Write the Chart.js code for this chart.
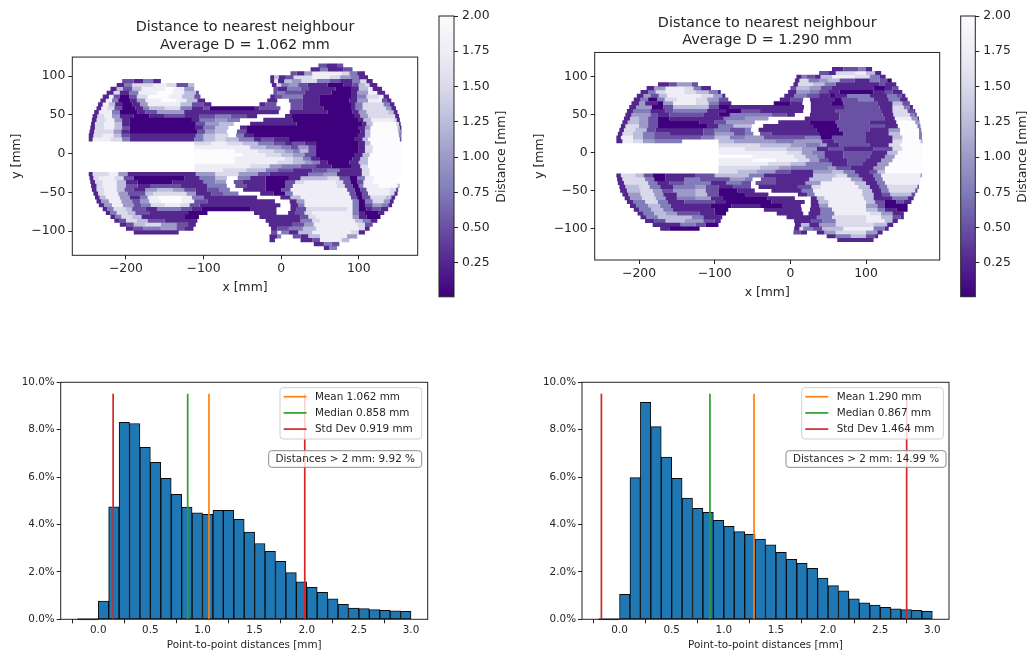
<!DOCTYPE html>
<html>
<head>
<meta charset="utf-8">
<title>Distance to nearest neighbour</title>
<script src="https://cdn.jsdelivr.net/npm/chart.js@4/dist/chart.umd.min.js"></script>
<style>
  html, body { margin: 0; padding: 0; background: #fff; }
  body { width: 1030px; height: 653px; position: relative; overflow: hidden; }
  canvas { position: absolute; filter: blur(0.35px); }
</style>
</head>
<body>
<canvas id="mapLeft" width="425" height="300" style="left:0;top:0"></canvas>
<canvas id="barLeft" width="85" height="310" style="left:430px;top:0"></canvas>
<canvas id="mapRight" width="430" height="305" style="left:515px;top:0"></canvas>
<canvas id="barRight" width="79" height="310" style="left:951px;top:0"></canvas>
<canvas id="histLeft" width="435" height="288" style="left:0;top:365px"></canvas>
<canvas id="histRight" width="436" height="288" style="left:520px;top:365px"></canvas>
<script>
// Purples_r steps, index = shade used in the run lists below
const shadeColors = ["#3f007d", "#54278f", "#6a51a3", "#807dba", "#9e9ac8", "#bcbddc", "#dadaeb", "#efedf5", "#fcfbfd"];
const colorbarTicks = [0.25, 0.5, 0.75, 1, 1.25, 1.5, 1.75, 2];
const mapXTicks = [-200, -100, 0, 100];
const mapYTicks = [-100, -50, 0, 50, 100];

// violin rows: x, shade, x, shade ... x (shade -1 = nothing there)
const leftRowY = [113.5, 108.5, 103.5, 98.5, 93.5, 88.5, 83.5, 78.5, 73.5, 68.5, 63.5, 58.5, 53.5, 48.5, 43.5, 38.5, 33.5, 28.5, 23.5, 18.5, 13.5, 8.5, 3.5, -1.5, -6.5, -11.5, -16.5, -21.5, -26.5, -31.5, -36.5, -41.5, -46.5, -51.5, -56.5, -61.5, -66.5, -71.5, -76.5, -81.5, -86.5, -91.5, -96.5, -101.5, -106.5, -111.5, -116.5, -121.5];
const leftRowRuns = [
  [48,2,58,1,72,2,80],
  [38,1,50,3,60,1,80,2,92],
  [12,2,20,1,30,4,40,7,78,6,88,3,98,1,108],
  [-14,1,-9,5,-3,1,6,2,16,6,40,7,62,6,76,4,90,3,100,1,112],
  [-205,2,-190,1,-178,3,-165,1,-155,-1,-14,1,-9,7,-4,1,4,5,14,4,26,6,46,3,62,2,76,1,92,3,102,6,110,1,118],
  [-212,1,-202,3,-192,6,-165,7,-148,6,-135,2,-120,5,-112,-1,-12,1,-6,6,0,3,10,4,22,2,34,1,60,0,80,1,92,2,100,5,108,6,114,1,124],
  [-220,1,-212,5,-204,2,-192,5,-180,7,-150,8,-138,7,-125,4,-112,-1,-10,2,-4,1,8,3,25,2,36,1,70,0,90,1,100,5,112,7,118,1,130],
  [-225,1,-216,6,-208,1,-196,3,-184,7,-160,8,-140,7,-125,5,-110,2,-106,-1,-10,2,-5,3,5,2,30,1,65,0,90,1,98,4,112,7,124,1,134],
  [-230,1,-222,7,-216,2,-208,0,-196,2,-186,6,-172,8,-145,7,-128,5,-112,2,-104,-1,-14,1,-8,2,2,3,28,1,50,0,90,1,98,3,110,6,126,7,132,1,139],
  [-233,1,-226,7,-218,3,-210,0,-194,1,-186,4,-175,7,-155,8,-135,7,-122,5,-108,1,-98,-1,-18,1,-5,-1,10,2,28,1,50,0,88,1,98,4,112,7,130,2,136,1,142],
  [-236,1,-230,7,-222,5,-214,1,-205,0,-192,1,-182,4,-172,7,-150,7,-130,5,-115,2,-100,1,-90,-1,-28,1,-20,2,-6,-1,12,2,28,1,50,0,90,1,96,3,105,6,132,3,140,1,146],
  [-238,1,-232,7,-224,6,-215,2,-205,0,-188,1,-178,3,-170,5,-150,6,-130,3,-115,1,-100,2,-92,0,-35,1,-28,2,-1,-1,12,2,28,1,55,0,90,1,96,3,105,6,135,4,142,1,148],
  [-241,1,-235,7,-218,3,-208,0,-185,1,-175,2,-160,4,-140,4,-125,1,-60,1,-3,-1,11,1,60,0,92,1,100,4,110,6,138,5,145,1,150],
  [-243,1,-237,6,-228,7,-218,4,-208,1,-190,0,-170,1,-150,2,-125,1,-105,2,-85,3,-65,2,-45,1,-31,-1,5,1,14,0,95,1,102,4,112,6,140,6,147,1,152],
  [-244,1,-238,6,-226,7,-215,4,-205,1,-195,0,-115,1,-105,3,-85,4,-70,3,-53,-1,-23,1,15,0,100,1,106,5,116,7,145,6,149,1,153],
  [-245,1,-240,6,-228,7,-215,5,-205,1,-195,0,-110,2,-98,4,-80,5,-61,-1,-40,1,20,0,105,1,110,5,118,8,148,6,152,1,154],
  [-246,1,-240,6,-228,7,-215,5,-205,2,-195,0,-110,1,-100,3,-85,5,-68,-1,-53,1,-45,0,100,1,108,4,115,8,150,5,153,1,155],
  [-247,1,-241,6,-228,6,-216,4,-206,1,-195,0,-108,2,-98,4,-85,5,-70,-1,-57,2,-45,0,102,1,108,5,115,8,151,4,154,1,155],
  [-248,1,-242,6,-230,7,-216,5,-206,2,-195,1,-110,3,-100,5,-85,6,-68,-1,-58,3,-48,1,-35,0,100,1,108,5,115,8,152,3,155],
  [-248,1,-243,7,-220,6,-205,3,-195,1,-150,1,-112,3,-100,5,-85,6,-72,5,-55,3,-35,1,-25,2,-10,1,10,0,95,1,105,5,112,8,153,2,155],
  [-112,6,-90,7,-70,6,-50,5,-30,3,-10,2,5,1,15,2,30,1,45,0,100,1,108,5,115,8,155],
  [-112,7,-60,7,-40,5,-20,4,0,3,12,2,22,4,35,2,45,0,100,1,108,6,118,8,155],
  [-112,8,-60,7,-30,6,-10,5,5,4,15,3,24,5,35,2,45,0,100,1,108,6,118,8,155],
  [-112,8,-50,7,-20,6,0,5,15,4,30,2,45,0,95,1,105,5,114,8,155],
  [-112,8,-60,7,5,6,15,5,28,3,38,1,50,0,92,1,102,5,112,8,155],
  [-112,8,-60,7,-5,6,15,5,30,4,40,3,50,1,60,0,88,1,100,5,112,8,155],
  [-112,7,-40,6,-15,4,0,3,25,2,45,1,65,0,90,1,102,6,112,8,155],
  [-112,7,-75,6,-45,5,-20,3,-5,2,15,1,40,2,60,3,75,1,104,6,114,8,155],
  [-248,1,-243,6,-222,7,-210,4,-198,1,-135,1,-110,4,-85,6,-55,4,-30,2,-15,1,35,3,55,4,72,1,104,6,114,8,155],
  [-247,1,-242,6,-235,7,-215,6,-203,2,-190,0,-125,1,-105,3,-85,5,-70,-1,-56,3,-40,1,-20,0,10,1,25,5,60,6,75,2,88,0,98,3,108,7,120,8,154],
  [-246,1,-240,6,-230,7,-212,5,-200,1,-185,0,-140,1,-100,3,-85,4,-71,-1,-61,2,-50,1,-20,0,5,2,18,6,30,7,70,6,80,2,90,0,98,2,106,7,118,8,152],
  [-245,1,-238,6,-230,7,-212,5,-200,2,-185,1,-168,2,-130,1,-95,3,-70,-1,-59,2,-45,1,-20,0,5,2,15,7,72,6,82,2,92,0,100,3,106,7,125,8,150,5,153],
  [-244,1,-238,6,-228,7,-212,5,-202,2,-190,1,-175,4,-160,5,-140,4,-125,2,-110,1,-95,2,-80,3,-66,-1,-49,1,-20,0,0,2,12,7,85,2,95,0,102,2,110,7,140,6,148,2,151],
  [-242,1,-236,6,-228,7,-210,4,-198,2,-175,5,-165,6,-122,4,-110,1,-90,2,-75,3,-55,-1,-27,1,-10,0,5,3,15,7,88,2,96,0,104,2,112,7,140,6,146,1,150],
  [-240,1,-234,5,-226,7,-208,4,-195,1,-182,3,-172,7,-158,8,-128,7,-115,3,-100,1,-31,-1,-1,1,12,5,25,7,90,2,98,0,105,2,115,6,135,5,142,1,147],
  [-238,1,-232,4,-222,7,-206,4,-192,2,-182,4,-170,7,-155,8,-128,7,-112,2,-95,1,-8,-1,11,1,20,4,30,7,92,3,100,0,108,3,118,6,132,4,140,1,145],
  [-235,1,-228,4,-218,7,-204,4,-190,2,-180,3,-168,6,-150,7,-130,6,-118,2,-105,1,-1,-1,12,1,22,3,30,7,92,3,100,0,108,2,118,4,130,3,138,1,143],
  [-230,1,-224,3,-216,6,-200,5,-192,2,-175,1,-160,3,-130,2,-115,1,-103,0,-40,1,-6,-1,12,1,20,2,32,6,85,7,92,3,100,0,110,1,118,2,128,1,138],
  [-226,1,-220,3,-212,6,-198,5,-188,2,-170,1,-120,0,-95,-1,-35,1,-6,-1,9,1,18,2,30,6,40,7,92,3,100,1,108,0,125,1,133],
  [-220,1,-214,3,-206,6,-192,5,-180,1,-125,0,-106,-1,-28,1,12,1,25,2,35,6,45,7,92,4,100,1,110,0,128],
  [-215,1,-208,2,-200,6,-186,5,-172,2,-150,1,-108,-1,-20,1,25,3,40,6,50,7,95,5,105,3,115,1,124],
  [-208,1,-200,2,-190,5,-175,6,-155,4,-135,2,-120,1,-110,-1,-16,1,15,2,30,4,42,7,98,6,108,2,118],
  [-200,1,-190,2,-178,3,-155,4,-135,2,-125,1,-113,-1,-13,1,-5,2,10,3,28,5,45,7,100,6,108,1,114],
  [-190,1,-132,-1,-13,2,-5,7,0,3,10,1,22,5,40,7,90,6,100,1,108],
  [-15,1,-5,3,0,-1,15,2,25,1,35,5,50,7,85,4,98],
  [-15,1,-8,-1,25,1,40,2,50,7,78,5,88],
  [42,1,55,3,65,2,75],
  [55,1,62,3,72]
];

const rightRowY = [110, 105, 100, 95, 90, 85, 80, 75, 70, 65, 60, 55, 50, 45, 40, 35, 30, 25, 20, 15, 10, 5, 0, -5, -10, -15, -20, -25, -30, -35, -40, -45, -50, -55, -60, -65, -70, -75, -80, -85, -90, -95, -100, -105, -110, -115];
const rightRowRuns = [
  [55,1,70,2,90,3,100,1,108],
  [38,2,50,1,60,6,85,7,100,5,112,1,120],
  [8,1,15,3,22,2,32,1,40,5,55,7,85,6,105,3,118,1,126],
  [6,1,12,6,24,3,38,4,50,5,65,2,85,1,105,3,118,2,128,0,134],
  [-175,1,-160,2,-150,4,-130,2,-122,-1,4,1,10,6,30,5,45,3,60,1,118,2,125,1,140],
  [-190,1,-180,4,-165,7,-140,6,-128,3,-118,1,-105,-1,0,2,8,5,25,4,40,2,55,1,110,0,125,1,135,2,143],
  [-198,1,-188,3,-178,6,-165,7,-140,6,-125,5,-108,3,-96,1,-92,-1,-3,1,8,4,25,3,38,2,50,1,65,0,110,1,125,2,135,1,148],
  [-203,1,-194,4,-185,2,-174,5,-163,7,-118,6,-102,4,-90,1,-86,-1,-8,1,5,3,22,2,38,1,52,0,60,1,75,3,105,1,128,3,140,2,147,1,152],
  [-207,1,-198,3,-188,0,-176,3,-166,6,-150,7,-125,6,-110,4,-95,2,-82,-1,-14,1,0,2,17,-1,26,1,58,0,68,2,90,3,110,1,130,3,145,1,155],
  [-210,1,-200,4,-192,1,-176,0,-168,4,-155,7,-125,6,-108,3,-95,1,-78,-1,-22,0,0,1,16,-1,27,1,55,0,70,2,115,1,135,5,148,2,158],
  [-213,1,-204,4,-183,0,-168,2,-155,5,-108,2,-95,0,-80,1,-12,1,18,-1,27,1,72,2,118,1,135,6,150,3,158,1,162],
  [-216,1,-208,3,-185,1,-165,2,-155,3,-110,1,-85,0,-65,2,-40,1,17,-1,27,1,60,2,120,1,135,6,155,2,163,1,165],
  [-218,1,-210,4,-185,2,-175,1,-160,2,-115,1,-95,0,-80,3,-25,2,-5,1,6,-1,26,1,65,2,122,1,136,6,158,3,165,1,167],
  [-220,1,-212,5,-200,4,-188,2,-175,0,-160,1,-88,3,-60,4,-29,-1,19,1,65,2,125,1,138,7,160,4,168,1,170],
  [-222,1,-215,5,-200,4,-188,2,-175,0,-120,1,-100,2,-85,4,-47,-1,-16,1,25,0,60,2,105,1,140,8,165,4,171],
  [-224,1,-218,6,-200,4,-188,2,-175,0,-110,1,-95,3,-75,5,-51,-1,-36,1,30,0,62,2,125,1,142,8,168,3,172],
  [-226,1,-220,6,-205,5,-190,2,-178,1,-115,2,-100,3,-80,2,-60,3,-52,-1,-42,1,35,0,65,2,105,1,130,4,145,8,170,3,173],
  [-228,1,-222,6,-208,5,-195,3,-180,2,-160,1,-115,2,-100,4,-75,2,-60,3,-49,-1,-40,2,-25,1,38,0,70,2,100,1,130,5,145,8,170,3,174],
  [-230,1,-224,7,-208,5,-195,3,-180,2,-118,3,-100,5,-80,3,-60,4,-35,2,20,3,40,0,55,2,100,1,135,5,148,8,170,3,174],
  [-230,1,-222,7,-208,6,-195,4,-180,3,-143,-1,-95,5,-75,4,-20,3,5,4,42,1,58,2,100,1,135,6,148,8,172,5,175],
  [-95,6,-40,5,0,4,20,3,40,4,48,1,65,2,105,1,130,6,145,8,175],
  [-95,7,-60,6,-5,5,15,4,35,1,50,2,70,1,110,2,135,6,148,8,175],
  [-95,7,-5,6,15,4,28,3,45,1,70,2,108,1,128,5,142,8,175],
  [-95,8,-50,7,5,6,20,4,35,3,45,1,70,2,105,1,125,4,138,8,175],
  [-95,7,-50,8,-20,7,10,6,25,4,38,2,50,1,75,2,100,1,120,4,135,8,175],
  [-95,7,-30,6,0,5,20,3,55,1,75,2,95,1,115,4,130,8,174],
  [-95,6,-40,5,-15,4,0,3,50,4,60,2,80,1,110,4,125,8,174],
  [-95,6,-70,5,-45,4,-20,2,0,1,30,4,55,5,70,3,85,1,105,2,115,5,125,8,174],
  [-230,1,-224,6,-205,5,-194,2,-182,0,-165,1,-125,2,-100,5,-55,3,-35,1,30,5,60,6,75,3,90,1,110,3,120,7,172,4,174],
  [-229,1,-222,6,-192,3,-180,0,-165,1,-140,3,-120,2,-80,4,-60,3,-50,-1,-39,2,-20,1,25,5,55,7,80,4,95,1,112,3,122,7,172],
  [-228,1,-220,6,-188,3,-176,1,-160,2,-140,3,-105,1,-85,3,-65,2,-52,-1,-46,2,-20,1,20,4,40,7,85,5,100,1,115,3,125,7,171],
  [-226,1,-218,5,-200,6,-186,3,-172,1,-155,3,-125,4,-112,2,-95,1,-75,2,-52,-1,-42,1,10,2,28,6,40,7,90,5,105,1,118,3,128,6,168,2,170],
  [-225,1,-216,5,-198,6,-182,4,-170,2,-155,4,-125,5,-112,2,-95,0,-70,1,-47,-1,-25,1,15,3,30,7,95,5,108,1,120,3,130,6,165,2,168],
  [-222,1,-214,4,-198,6,-180,4,-168,1,-150,4,-125,5,-110,2,-95,0,-60,1,-29,-1,10,1,22,3,32,7,95,5,110,1,122,2,132,5,160,2,165],
  [-219,1,-212,4,-196,6,-178,4,-165,1,-150,3,-125,4,-105,1,-90,0,-30,1,6,-1,27,1,35,5,45,7,97,5,110,1,135,3,155,1,163],
  [-216,1,-208,3,-192,6,-175,3,-162,1,-140,2,-100,1,-85,0,-25,1,19,-1,27,1,37,5,50,7,100,5,112,2,125,0,140,2,150,1,160],
  [-212,1,-204,3,-188,5,-172,3,-158,1,-105,0,-78,1,-40,0,-10,1,14,-1,27,1,38,4,50,7,100,4,115,2,125,0,155],
  [-207,1,-200,3,-184,5,-168,3,-155,1,-100,0,-82,-1,-35,1,15,-1,26,1,40,3,55,7,100,5,115,3,125,1,140,0,155],
  [-202,1,-194,3,-180,5,-165,4,-150,2,-120,1,-100,0,-85,-1,-18,1,17,-1,24,1,40,3,58,7,105,6,120,4,135,1,150],
  [-198,1,-190,3,-175,5,-130,3,-115,1,-90,-1,-5,1,35,3,55,6,100,7,120,5,135,2,146,1,150],
  [-192,1,-180,2,-165,5,-140,4,-115,2,-100,1,-92,-1,5,1,28,2,42,3,60,6,100,7,125,5,135,1,142],
  [-182,1,-145,3,-125,2,-112,0,-95,-1,6,1,14,5,25,1,38,4,60,6,110,5,128,1,136],
  [-172,1,-160,0,-120,-1,5,1,12,6,17,3,30,2,42,5,70,7,110,3,125,1,130],
  [4,2,14,1,22,-1,35,1,45,4,60,6,100,4,115,1,122],
  [48,1,60,3,80,5,100,2,112,1,116],
  [62,1,110]
];

// histograms, percent per 0.1 mm bin starting at 0.0
const binCenters = [0.05, 0.15, 0.25, 0.35, 0.45, 0.55, 0.65, 0.75, 0.85, 0.95, 1.05, 1.15, 1.25, 1.35, 1.45, 1.55, 1.65, 1.75, 1.85, 1.95, 2.05, 2.15, 2.25, 2.35, 2.45, 2.55, 2.65, 2.75, 2.85, 2.95];
const leftBins = [0.77, 4.75, 8.31, 8.26, 7.26, 6.62, 5.95, 5.27, 4.73, 4.49, 4.43, 4.6, 4.6, 4.22, 3.68, 3.2, 2.87, 2.45, 1.97, 1.58, 1.35, 1.14, 0.86, 0.63, 0.47, 0.45, 0.41, 0.38, 0.36, 0.34];
const rightBins = [1.05, 5.98, 9.16, 8.13, 6.85, 5.95, 5.12, 4.68, 4.51, 4.18, 3.92, 3.7, 3.59, 3.38, 3.14, 2.83, 2.53, 2.36, 2.15, 1.74, 1.42, 1.2, 0.86, 0.7, 0.6, 0.51, 0.44, 0.41, 0.38, 0.34];
const emptyBinEdges = [-0.2, 0];
const histXTicks = [0, 0.5, 1, 1.5, 2, 2.5, 3];
const histYTicks = [0, 2, 4, 6, 8, 10];
const markerTop = 9.52;
const leftMarks = { mean: 1.062, median: 0.858, stdLow: 0.143, stdHigh: 1.981 };
const rightMarks = { mean: 1.29, median: 0.867, stdLow: -0.174, stdHigh: 2.754 };

const FONT = "'DejaVu Sans', sans-serif";
const TEXT = "#262626";

function framePlugin() {
  return {
    id: "frame",
    afterDraw(chart) {
      const a = chart.chartArea, c = chart.ctx;
      c.save();
      c.strokeStyle = "#222";
      c.lineWidth = 1;
      c.strokeRect(a.left, a.top, a.right - a.left, a.bottom - a.top);
      c.restore();
    }
  };
}

function fixedTicks(values) {
  return function (scale) { scale.ticks = values.map((v) => ({ value: v })); };
}

function axis(opts) {
  return {
    type: "linear",
    min: opts.min,
    max: opts.max,
    position: opts.position,
    offset: false,
    afterBuildTicks: fixedTicks(opts.ticks),
    afterFit(scale) {
      if (opts.position === "left") scale.width = opts.size; else scale.height = opts.size;
    },
    border: { display: false },
    grid: { drawOnChartArea: false, drawTicks: true, tickLength: 4, tickColor: "#222", tickWidth: 1 },
    ticks: {
      autoSkip: false,
      maxRotation: 0,
      padding: opts.tickPad,
      color: TEXT,
      font: { family: FONT, size: opts.fontSize },
      callback: opts.format
    },
    title: {
      display: true,
      text: opts.title,
      color: TEXT,
      font: { family: FONT, size: opts.fontSize, lineHeight: 1.2 },
      padding: opts.titlePad
    }
  };
}

const minusTick = (v) => String(v).replace("-", "\u2212");

function buildMap(id, rowY, rowRuns, box) {
  // one line dataset per shade, each run of a row is one butt-ended stroke
  const byShade = shadeColors.map(() => []);
  rowRuns.forEach((runs, r) => {
    for (let i = 0; i + 2 < runs.length; i += 2) {
      const shade = runs[i + 1];
      if (shade < 0) continue;
      byShade[shade].push({ x: runs[i], y: rowY[r] }, { x: runs[i + 2], y: rowY[r] }, { x: runs[i + 2], y: null });
    }
  });
  new Chart(document.getElementById(id), {
    type: "scatter",
    data: {
      datasets: byShade.map((points, s) => ({
        label: "shade " + s,
        data: points,
        showLine: true,
        borderColor: shadeColors[s],
        borderWidth: box.rowWidth,
        borderCapStyle: "butt",
        pointRadius: 0,
        spanGaps: false
      }))
    },
    options: {
      responsive: false,
      animation: false,
      layout: { padding: { right: box.right } },
      plugins: {
        legend: { display: false },
        tooltip: { enabled: false },
        title: {
          display: true,
          text: box.title,
          fullSize: false,
          color: TEXT,
          font: { family: FONT, size: 14.4, weight: "normal", lineHeight: 1.2 },
          padding: box.titlePad
        }
      },
      scales: {
        x: axis({ min: box.xMin, max: box.xMax, position: "bottom", ticks: mapXTicks, size: box.bottom, tickPad: 2, fontSize: 12.4, format: minusTick, title: "x [mm]", titlePad: { top: 0, bottom: 4.5 } }),
        y: axis({ min: box.yMin, max: box.yMax, position: "left", ticks: mapYTicks, size: box.left, tickPad: 3, fontSize: 12.4, format: minusTick, title: "y [mm]", titlePad: { top: box.yTitlePad, bottom: 0 } })
      }
    },
    plugins: [framePlugin()]
  });
}

function buildColorbar(id, box) {
  new Chart(document.getElementById(id), {
    type: "bar",
    data: {
      labels: ["Distance [mm]"],
      datasets: [{
        data: [[0.01, 2]],
        barPercentage: 1,
        categoryPercentage: 1,
        backgroundColor(ctx) {
          const a = ctx.chart.chartArea;
          if (!a) return shadeColors[4];
          const g = ctx.chart.ctx.createLinearGradient(0, a.bottom, 0, a.top);
          shadeColors.forEach((c, i) => g.addColorStop(i / (shadeColors.length - 1), c));
          return g;
        }
      }]
    },
    options: {
      responsive: false,
      animation: false,
      layout: { padding: { left: box.left, top: box.top, bottom: box.bottom } },
      plugins: { legend: { display: false }, tooltip: { enabled: false } },
      scales: {
        x: { display: false },
        y: {
          type: "linear",
          position: "right",
          min: 0.01,
          max: 2,
          afterBuildTicks: fixedTicks(colorbarTicks),
          afterFit(scale) { scale.width = box.axis; },
          border: { display: false },
          grid: { drawOnChartArea: false, tickLength: 4, tickColor: "#222" },
          ticks: {
            padding: 4,
            color: TEXT,
            font: { family: FONT, size: 12.4 },
            callback: (v) => v.toFixed(2)
          }
        }
      }
    },
    plugins: [framePlugin(), {
      id: "barLabel",
      afterDraw(chart) {
        const c = chart.ctx;
        c.save();
        c.translate(box.labelX, 156.7);
        c.rotate(-Math.PI / 2);
        c.fillStyle = TEXT;
        c.font = "12.4px " + FONT;
        c.textAlign = "center";
        c.textBaseline = "middle";
        c.fillText("Distance [mm]", 0, 0);
        c.restore();
      }
    }]
  });
}

function roundedBox(c, x, y, w, h, r, stroke) {
  c.beginPath();
  c.roundRect(x, y, w, h, r);
  c.fillStyle = "rgba(255,255,255,0.8)";
  c.fill();
  c.strokeStyle = stroke;
  c.lineWidth = 1;
  c.stroke();
}

function buildHist(id, bins, marks, box) {
  const vline = (x, color, label) => ({
    type: "line",
    label,
    data: [{ x, y: 0 }, { x, y: markerTop }],
    borderColor: color,
    borderWidth: 1.7,
    pointRadius: 0,
    order: 1
  });
  new Chart(document.getElementById(id), {
    type: "bar",
    data: {
      datasets: [
        vline(marks.mean, "#ff7f0e", "Mean"),
        vline(marks.median, "#2ca02c", "Median"),
        vline(marks.stdLow, "#d62728", "Std Dev"),
        vline(marks.stdHigh, "#d62728", "Std Dev"),
        {
          type: "line",
          label: "empty bins",
          data: emptyBinEdges.map((x) => ({ x, y: 0 })),
          borderColor: "#111",
          borderWidth: 1.5,
          pointRadius: 0,
          clip: false,
          order: 2
        },
        {
          type: "bar",
          label: "distances",
          data: binCenters.map((x, i) => ({ x, y: bins[i] })),
          backgroundColor: "#1f77b4",
          borderColor: "#0a0a0a",
          borderWidth: 1,
          borderSkipped: false,
          barPercentage: 1,
          categoryPercentage: 1,
          order: 3
        }
      ]
    },
    options: {
      responsive: false,
      animation: false,
      layout: { padding: { top: 17.3, right: box.right } },
      plugins: { legend: { display: false }, tooltip: { enabled: false } },
      scales: {
        x: axis({ min: -0.36, max: 3.16, position: "bottom", ticks: histXTicks, size: 33.7, tickPad: 1, fontSize: 10.4, format: (v) => v.toFixed(1), title: "Point-to-point distances [mm]", titlePad: { top: 0, bottom: 1 } }),
        y: axis({ min: 0, max: 10, position: "left", ticks: histYTicks, size: box.left, tickPad: 2, fontSize: 10.4, format: (v) => v.toFixed(1) + "%", title: "", titlePad: 0 })
      }
    },
    plugins: [framePlugin(), {
      id: "histNotes",
      afterDraw(chart) {
        const c = chart.ctx;
        c.save();
        roundedBox(c, box.legendX, 22.7, box.legendW, 51.3, 3, "#d0d0d0");
        c.font = "10.4px " + FONT;
        c.textBaseline = "middle";
        box.legend.forEach((row, i) => {
          const y = 31.7 + i * 16.2;
          c.strokeStyle = row.color;
          c.lineWidth = 1.7;
          c.beginPath();
          c.moveTo(box.legendX + 3.6, y);
          c.lineTo(box.legendX + 26.6, y);
          c.stroke();
          c.fillStyle = TEXT;
          c.fillText(row.text, box.legendX + 35, y + 0.5);
        });
        roundedBox(c, box.noteX, 85.7, box.noteW, 16.6, 3, "#8c8c8c");
        c.fillStyle = TEXT;
        c.textAlign = "center";
        c.fillText(box.note, box.noteX + box.noteW / 2, 94.3);
        c.restore();
      }
    }]
  });
}

Chart.defaults.font.family = FONT;

buildMap("mapLeft", leftRowY, leftRowRuns, {
  title: ["Distance to nearest neighbour", "Average D = 1.062 mm"],
  titlePad: { top: 19, bottom: 3.5 },
  left: 72.3, right: 7.3, bottom: 44.7, yTitlePad: 9.8, rowWidth: 4.2,
  xMin: -269.2, xMax: 176, yMin: -131, yMax: 124.5
});
buildMap("mapRight", rightRowY, rightRowRuns, {
  title: ["Distance to nearest neighbour", "Average D = 1.290 mm"],
  titlePad: { top: 14.6, bottom: 3.3 },
  left: 79.7, right: 5.3, bottom: 45, yTitlePad: 17, rowWidth: 4.1,
  xMin: -258.6, xMax: 197.4, yMin: -141.3, yMax: 132
});
buildColorbar("barLeft", { left: 9, top: 16, bottom: 13.2, axis: 61, labelX: 71.7 });
buildColorbar("barRight", { left: 9.7, top: 16, bottom: 13.3, axis: 54.7, labelX: 72 });
buildHist("histLeft", leftBins, leftMarks, {
  left: 60.7, right: 7.3, legendX: 280, legendW: 141.7, noteX: 268.7, noteW: 153,
  note: "Distances > 2 mm: 9.92 %",
  legend: [
    { color: "#ff7f0e", text: "Mean 1.062 mm" },
    { color: "#2ca02c", text: "Median 0.858 mm" },
    { color: "#d62728", text: "Std Dev 0.919 mm" }
  ]
});
buildHist("histRight", rightBins, rightMarks, {
  left: 62, right: 7, legendX: 281.7, legendW: 141.6, noteX: 266, noteW: 160,
  note: "Distances > 2 mm: 14.99 %",
  legend: [
    { color: "#ff7f0e", text: "Mean 1.290 mm" },
    { color: "#2ca02c", text: "Median 0.867 mm" },
    { color: "#d62728", text: "Std Dev 1.464 mm" }
  ]
});
</script>
</body>
</html>
